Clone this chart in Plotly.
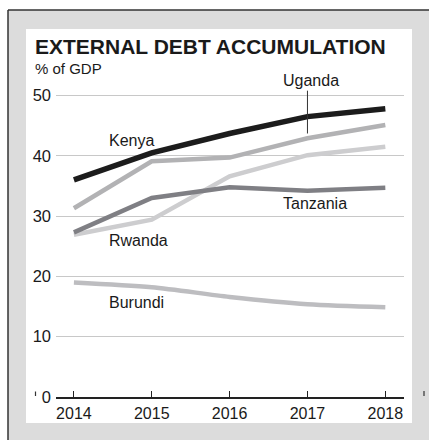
import plotly.graph_objects as go

# External debt, % of GDP
years = [2014, 2015, 2016, 2017, 2018]
kenya = [36.0, 40.5, 43.7, 46.5, 47.8]
uganda = [31.3, 39.1, 39.7, 42.9, 45.1]
rwanda = [26.9, 29.4, 36.6, 40.1, 41.5]
tanzania = [27.3, 33.0, 34.8, 34.2, 34.7]
burundi = [19.0, 18.2, 16.6, 15.4, 14.9]

y_ticks = [0, 10, 20, 30, 40, 50]

W, H = 429, 440
L, R, T, B = 56, 25, 88, 43
PW, PH = W - L - R, H - T - B
Y_SCALE = 6.03  # pixels per percentage point


def px(x):
    return (x - L) / PW


def py(y):
    return (H - B - y) / PH


FONT = "Liberation Sans"

fig = go.Figure()

series = [
    ("Burundi", burundi, "#bdbdc0", 4.5, "spline"),
    ("Rwanda", rwanda, "#cdcdcf", 4.5, "linear"),
    ("Uganda", uganda, "#b2b2b4", 4.5, "linear"),
    ("Tanzania", tanzania, "#7f7f84", 4.5, "linear"),
    ("Kenya", kenya, "#1c1c1c", 5.5, "linear"),
]
for name, vals, color, width, shape in series:
    fig.add_trace(go.Scatter(
        x=years, y=vals, mode="lines", name=name,
        line=dict(color=color, width=width, shape=shape, smoothing=0.8),
        hoverinfo="x+y+name",
    ))

shapes = [
    # grey frame with dark top/left edge
    dict(type="rect", xref="paper", yref="paper", layer="below",
         x0=px(8), x1=px(440), y0=py(10), y1=py(450),
         fillcolor="#dcdcdc", line=dict(width=0)),
    dict(type="line", xref="paper", yref="paper", layer="below",
         x0=px(8), x1=px(440), y0=py(10), y1=py(10),
         line=dict(color="#333333", width=1.5)),
    dict(type="line", xref="paper", yref="paper", layer="below",
         x0=px(8), x1=px(8), y0=py(10), y1=py(450),
         line=dict(color="#333333", width=1.5)),
    # white panel
    dict(type="rect", xref="paper", yref="paper", layer="below",
         x0=px(26), x1=px(412), y0=py(29), y1=py(423),
         fillcolor="white", line=dict(width=0)),
    # crop marks
    dict(type="line", xref="paper", yref="paper",
         x0=px(35.5), x1=px(35.5), y0=py(391.5), y1=py(396),
         line=dict(color="#333333", width=1.2)),
    dict(type="line", xref="paper", yref="paper",
         x0=px(424), x1=px(424), y0=py(391), y1=py(396),
         line=dict(color="#333333", width=1.2)),
    # Uganda leader line
    dict(type="line", xref="x", yref="y",
         x0=2017, x1=2017, y0=50.8, y1=43.7,
         line=dict(color="#333333", width=1)),
]

annotations = [
    dict(text="<b>EXTERNAL DEBT ACCUMULATION</b>", xref="paper", yref="paper",
         x=px(33), y=py(47), xanchor="left", yanchor="middle", showarrow=False,
         font=dict(family=FONT, size=21, color="#1a1a1a")),
    dict(text="% of GDP", xref="paper", yref="paper",
         x=px(33), y=py(69), xanchor="left", yanchor="middle", showarrow=False,
         font=dict(family=FONT, size=15, color="#1a1a1a")),
    # Uganda sits above the top of the value range
    dict(text="Uganda", xref="x", yref="paper", x=2017.05, y=py(80),
         xanchor="center", yanchor="middle", showarrow=False,
         font=dict(family=FONT, size=16, color="#1a1a1a")),
]

labels = [
    ("Kenya", 2014.42, 42.6, "left"),
    ("Tanzania", 2017.1, 32.1, "center"),
    ("Rwanda", 2014.42, 25.9, "left"),
    ("Burundi", 2014.42, 15.6, "left"),
]
for text, x, y, anchor in labels:
    annotations.append(dict(
        text=text, x=x, y=y, xref="x", yref="y", xanchor=anchor,
        yanchor="middle", showarrow=False,
        font=dict(family=FONT, size=16, color="#1a1a1a"),
    ))

fig.update_layout(
    width=W, height=H,
    margin=dict(l=L, r=R, t=T, b=B, pad=0),
    paper_bgcolor="white",
    plot_bgcolor="rgba(0,0,0,0)",
    showlegend=False,
    shapes=shapes,
    annotations=annotations,
    font=dict(family=FONT, color="#1a1a1a"),
)

fig.update_xaxes(
    range=[2013.77, 2018.24],
    tickvals=years, ticktext=[str(y) for y in years],
    showgrid=False, zeroline=False,
    showline=True, linecolor="#222222", linewidth=1.5,
    ticks="inside", ticklen=6, tickwidth=1.2, tickcolor="#222222",
    tickfont=dict(family=FONT, size=16, color="#1a1a1a"),
    ticklabelstandoff=1,
    fixedrange=True,
)

fig.update_yaxes(
    range=[0, PH / Y_SCALE],
    tickvals=y_ticks, ticktext=[str(v) for v in y_ticks],
    showgrid=True, gridcolor="#c8c8c8", gridwidth=1,
    zeroline=False, showline=False, ticks="",
    tickfont=dict(family=FONT, size=16.5, color="#1a1a1a"),
    ticklabelstandoff=4,
    fixedrange=True,
)

fig.write_html("out.html")
